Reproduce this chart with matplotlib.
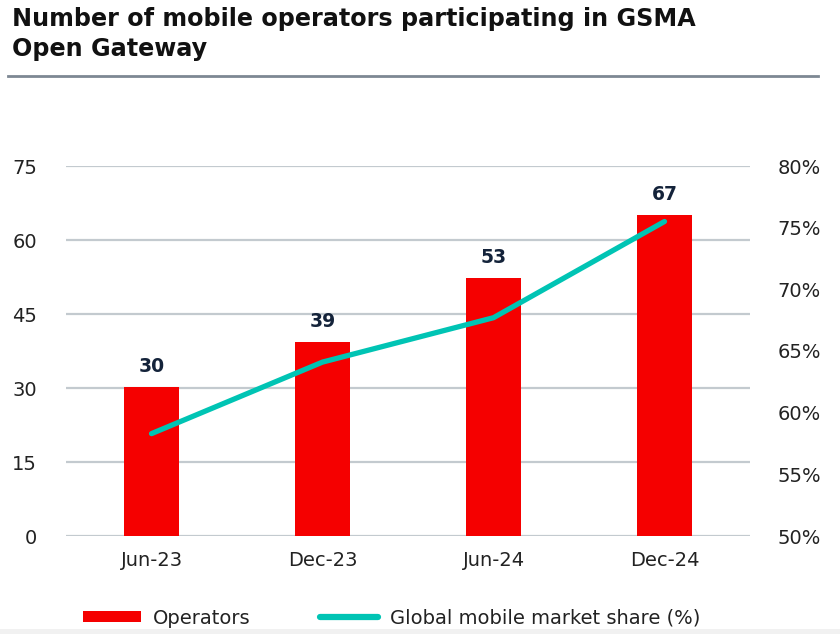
import matplotlib.pyplot as plt
from matplotlib.lines import Line2D
from matplotlib.patches import Patch, Rectangle

# data
periods = ['Jun-23', 'Dec-23', 'Jun-24', 'Dec-24']
operators_drawn = [30.2, 39.3, 52.3, 65.1]   # bar heights as drawn
operators_label = [30, 39, 53, 67]           # printed labels
market_share = [58.3, 64.1, 67.7, 75.5]      # percent

left_ticks = [0, 15, 30, 45, 60, 75]
right_ticks = [50, 55, 60, 65, 70, 75, 80]

RED = '#f50000'
TEAL = '#00c4b4'
GRID = '#c3cacf'
TXT = '#222222'

plt.rcParams['font.family'] = ['DejaVu Sans']

fig = plt.figure(figsize=(8.4, 6.34), dpi=100)
ax = fig.add_axes([66 / 840, 1 - 536 / 634, 684 / 840, 370 / 634])

x = list(range(len(periods)))
ax.bar(x, operators_drawn, width=0.32, color=RED, zorder=2)
for xi, h, lab in zip(x, operators_drawn, operators_label):
    ax.text(xi, h + 4.2, str(lab), ha='center', va='center', fontsize=13.5,
            fontweight='bold', color='#14233a')

ax.set_xlim(-0.5, 3.5)
ax.set_ylim(0, 75)
ax.set_yticks(left_ticks)
ax.set_yticklabels([str(t) for t in left_ticks])
ax.set_xticks(x)
ax.set_xticklabels(periods)
ax.grid(axis='y', color=GRID, linewidth=1.6, zorder=0)
ax.set_axisbelow(True)
ax.tick_params(axis='y', length=0, pad=21, labelsize=14, labelcolor=TXT)
ax.tick_params(axis='x', length=0, pad=11, labelsize=14, labelcolor=TXT)
for s in ax.spines.values():
    s.set_visible(False)

ax2 = ax.twinx()
ax2.plot(x, market_share, color=TEAL, linewidth=3.8, solid_capstyle='round', zorder=3)
ax2.set_ylim(50, 80)
ax2.set_yticks(right_ticks)
ax2.set_yticklabels([f'{t}%' for t in right_ticks])
ax2.tick_params(axis='y', length=0, pad=20, labelsize=14, labelcolor=TXT)
for s in ax2.spines.values():
    s.set_visible(False)

# title and rule
fig.text(12 / 840, 1 - 7 / 634, 'Number of mobile operators participating in GSMA\nOpen Gateway',
         ha='left', va='top', fontsize=17.2, fontweight='bold', color='#111111',
         linespacing=1.32)
fig.add_artist(Line2D([8 / 840, 818 / 840], [1 - 76 / 634, 1 - 76 / 634],
                      color='#7d8893', linewidth=2, transform=fig.transFigure))

# light strip along the bottom edge
fig.add_artist(Rectangle((0, 0), 1, 5 / 634, transform=fig.transFigure,
                         facecolor='#f1f1f1', edgecolor='none'))

handles = [Patch(facecolor=RED, edgecolor='none'),
           Line2D([0], [0], color=TEAL, linewidth=4.5, solid_capstyle='round')]
fig.legend(handles, ['Operators', 'Global mobile market share (%)'],
           loc='center left', bbox_to_anchor=(65 / 840, 1 - 618 / 634), ncol=2,
           frameon=False, fontsize=14, handlelength=3.0, handleheight=0.55,
           columnspacing=3.6, handletextpad=0.6, labelcolor=TXT)

fig.savefig('out.png', dpi=100)
